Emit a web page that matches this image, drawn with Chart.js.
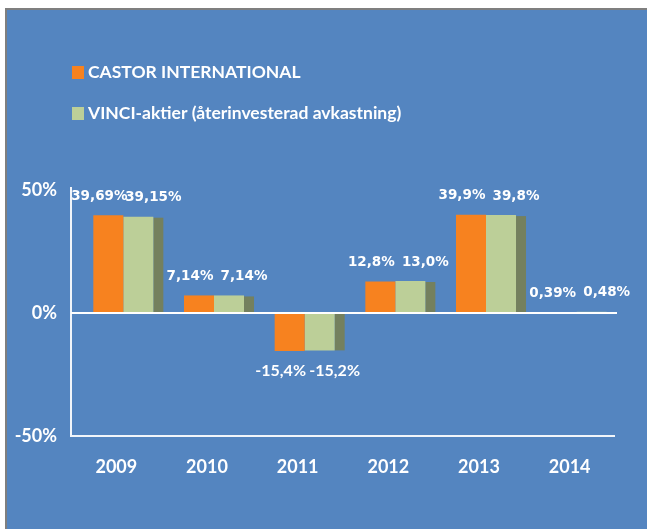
<!DOCTYPE html>
<html>
<head>
<meta charset="utf-8">
<script src="https://cdn.jsdelivr.net/npm/chart.js@4"></script>
<style>
  html, body { margin: 0; padding: 0; background: #fff; }
  #frame {
    position: absolute; left: 5px; top: 8px;
    width: 640px; height: 519px;
    border-top: 2px solid #7f7f7f; border-left: 2px solid #7f7f7f;
    background: #5485c0;
  }
  canvas { display: block; }
</style>
</head>
<body>
<div id="frame"><canvas id="chart" width="640" height="519"></canvas></div>
<script>
// data
const years = ['2009', '2010', '2011', '2012', '2013', '2014'];
const castor = [39.69, 7.14, -15.4, 12.8, 39.9, 0.39];
const vinci = [39.15, 7.14, -15.2, 13.0, 39.8, 0.48];
const castorLabels = ['39,69%', '7,14%', '-15,4%', '12,8%', '39,9%', '0,39%'];
const vinciLabels = ['39,15%', '7,14%', '-15,2%', '13,0%', '39,8%', '0,48%'];
const yTicks = [-50, 0, 50];

const seriesNames = ['CASTOR INTERNATIONAL', 'VINCI-aktier (återinvesterad avkastning)'];
const colors = ['#f7821f', '#bccf98'];
const sideColor = '#74805e';

// axes lines, the green 3d side, value labels and legend
const decorations = {
    id: 'decorations',
    beforeDatasetsDraw(chart) {
        const ctx = chart.ctx;
        const a = chart.chartArea;
        const y = chart.scales.y;
        const x0 = a.left - 7;
        ctx.save();
        ctx.strokeStyle = 'rgba(255,255,255,0.92)';
        ctx.lineWidth = 2;
        ctx.beginPath();
        ctx.moveTo(x0, y.getPixelForValue(50) - 3);
        ctx.lineTo(x0, a.bottom);
        ctx.lineTo(a.right - 7, a.bottom);
        ctx.stroke();
        // side of green bars
        const meta = chart.getDatasetMeta(1);
        ctx.fillStyle = sideColor;
        meta.data.forEach(bar => {
            const top = Math.min(bar.y, bar.base);
            const h = Math.abs(bar.base - bar.y);
            ctx.fillRect(bar.x + bar.width / 2, top + (bar.y < bar.base ? 1 : 0), 10, h);
        });
        ctx.restore();
    },
    afterDatasetsDraw(chart) {
        const ctx = chart.ctx;
        const a = chart.chartArea;
        const y = chart.scales.y;
        const zero = y.getPixelForValue(0);
        ctx.save();
        ctx.strokeStyle = '#ffffff';
        ctx.lineWidth = 2;
        ctx.beginPath();
        ctx.moveTo(a.left - 7, zero);
        ctx.lineTo(a.right - 5, zero);
        ctx.stroke();

        // value labels
        const texts = [castorLabels, vinciLabels];
        const offsets = [-9, 15];
        ctx.fillStyle = '#ffffff';
        ctx.textAlign = 'center';
        ctx.textBaseline = 'middle';
        [0, 1].forEach(i => {
            chart.getDatasetMeta(i).data.forEach((bar, j) => {
                const v = chart.data.datasets[i].data[j];
                let ty;
                if (v < 0) {
                    ctx.font = 'bold 16px Lato';
                    ty = bar.y + 20;
                } else {
                    ctx.font = 'bold 13.5px "DejaVu Sans"';
                    ty = bar.y - 19;
                }
                ctx.fillText(texts[i][j], bar.x + offsets[i], ty);
            });
        });

        // legend, stacked
        ctx.textAlign = 'left';
        ctx.font = 'bold 17.5px Lato';
        chart.data.datasets.forEach((ds, i) => {
            const ly = 62 + i * 41;
            ctx.fillStyle = ds.backgroundColor;
            ctx.fillRect(65, ly - 6, 12, 13);
            ctx.fillStyle = '#ffffff';
            ctx.fillText(ds.label, 81, ly);
        });
        ctx.restore();
    }
};

new Chart(document.getElementById('chart'), {
    type: 'bar',
    data: {
        labels: years,
        datasets: [
            { label: seriesNames[0], data: castor, backgroundColor: colors[0] },
            { label: seriesNames[1], data: vinci, backgroundColor: colors[1] }
        ]
    },
    options: {
        responsive: false,
        animation: false,
        layout: { padding: { top: 180, right: 25, left: 0, bottom: 0 } },
        datasets: { bar: { categoryPercentage: 0.662, barPercentage: 1 } },
        scales: {
            x: {
                grid: { display: false, drawTicks: false },
                border: { display: false },
                ticks: {
                    color: '#ffffff', font: { family: 'Lato', size: 18, weight: 'bold' },
                    padding: 20, labelOffset: -7
                },
                afterFit: s => { s.height = 93; }
            },
            y: {
                min: -50, max: 50,
                afterBuildTicks: s => { s.ticks = yTicks.map(v => ({ value: v })); },
                grid: { display: false, drawTicks: false },
                border: { display: false },
                ticks: {
                    color: '#ffffff', font: { family: 'Lato', size: 18, weight: 'bold' },
                    padding: 21,
                    callback: v => v + '%'
                },
                afterFit: s => { s.width = 71; }
            }
        },
        plugins: {
            legend: { display: false },
            tooltip: { enabled: false }
        }
    },
    plugins: [decorations]
});
</script>
</body>
</html>
